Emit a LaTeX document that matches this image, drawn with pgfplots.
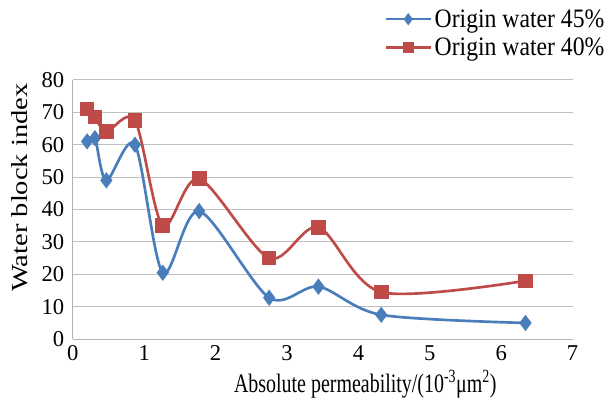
\documentclass[border=0pt]{standalone}
\usepackage{pgfplots}
\pgfplotsset{compat=1.18}
\usepackage{graphicx}
\usepackage{fontspec}
\setmainfont{Liberation Serif}
\definecolor{cblue}{RGB}{74,126,187}
\definecolor{cred}{RGB}{190,75,72}
\begin{document}
\begin{tikzpicture}[x=1pt,y=1pt]
\begin{axis}[
  scale only axis,
  width=375.75pt, height=195pt,
  xmin=0, xmax=7, ymin=0, ymax=80,
  xtick={0,1,...,7}, ytick={0,10,...,80},
  axis lines*=left,
  axis line style={draw=gray!60, line width=0.8pt, -},
  ymajorgrids, grid style={gray!50, line width=0.8pt},
  major tick length=0pt,
  tick label style={font=\fontsize{17}{19}\selectfont},
  /pgf/number format/assume math mode=true,
  xticklabel style={yshift=-1pt},
  yticklabel style={xshift=-3pt},
  xlabel={\scalebox{0.75}[1]{Absolute permeability/(10\textsuperscript{-3}μm\textsuperscript{2})}},
  ylabel={\scalebox{1.24}[1]{Water block index}},
  xlabel style={font=\fontsize{20}{24}\selectfont, at={(axis description cs:0.5,0)}, anchor=center, xshift=32pt, yshift=-33.75pt},
  ylabel style={font=\fontsize{17.3}{20}\selectfont, at={(axis description cs:0,0.5)}, anchor=center, yshift=39.75pt, xshift=16.5pt},
  legend style={at={(axis description cs:0.623,1.283)}, anchor=north west, draw=none, fill=none,
    font=\fontsize{20}{24}\selectfont, row sep=2.5pt, inner sep=0pt,
    /tikz/every even column/.append style={column sep=1pt}},
  legend cell align=left,
  legend image code/.code={\draw[#1, line width=1.8pt] (0pt,0pt) -- (34pt,0pt); \draw[#1, only marks, mark size=3pt] plot coordinates {(17pt,0pt)};},
]
\addplot[cblue, line width=2pt, smooth, tension=0.5, mark=diamond*, mark size=4.5pt, mark options={solid}] coordinates {
(0.2,61) (0.31,62) (0.47,49) (0.87,60) (1.26,20.5) (1.77,39.5) (2.75,12.8) (3.44,16.2) (4.32,7.5) (6.34,5)
};
\addlegendentry{\scalebox{0.89}[1]{Origin water 45\%}}
\addplot[cred, line width=2pt, smooth, tension=0.5, mark=square*, mark size=4.5pt, mark options={solid}] coordinates {
(0.2,71) (0.31,68.5) (0.47,64) (0.87,67.5) (1.26,35) (1.77,49.5) (2.75,25) (3.44,34.5) (4.32,14.5) (6.34,18)
};
\addlegendentry{\scalebox{0.89}[1]{Origin water 40\%}}
\end{axis}
\path (current axis.south west) ++(-54.75pt,-48pt) rectangle ++(455.25pt,303pt);
\end{tikzpicture}
\end{document}
